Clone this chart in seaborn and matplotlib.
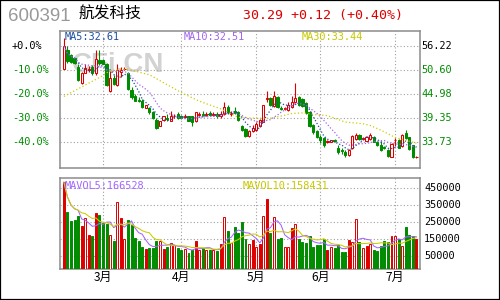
import numpy as np
import pandas as pd
import matplotlib
matplotlib.use("Agg")
import matplotlib.pyplot as plt
import matplotlib.transforms as mtrans
from matplotlib.patches import Rectangle
import seaborn as sns

# ---------------- data ----------------
opens = [50.9, 55.3, 54.1, 53.3, 51.3, 47.5, 49.9, 50.5, 51.2, 49.8,
         52.9, 52.9, 52.1, 45.6, 48.8, 47.0, 50.2, 50.8, 49.8, 46.0,
         44.6, 43.6, 43.4, 41.7, 41.7, 40.7, 38.9, 37.5, 38.9, 39.4,
         38.7, 39.7, 40.3, 39.9, 39.5, 39.7, 39.7, 38.6, 40.1, 40.4,
         40.0, 40.6, 40.0, 40.3, 39.7, 40.3, 41.9, 40.3, 40.9, 40.7,
         37.5, 36.8, 35.2, 36.3, 36.6, 37.5, 38.5, 43.9, 44.1, 42.2,
         44.2, 41.8, 41.5, 41.3, 41.9, 43.1, 44.2, 43.8, 42.9, 40.7,
         37.6, 36.3, 35.0, 34.6, 33.8, 33.7, 34.3, 32.3, 31.85, 31.4,
         30.6, 32.3, 34.5, 35.45, 34.5, 34.0, 34.5, 35.0, 33.7, 32.95,
         32.5, 31.9, 30.2, 34.1, 34.2, 32.7, 35.85, 34.8, 32.95, 30.17]
highs = [58.0, 56.2, 54.3, 53.5, 52.1, 50.2, 52.1, 51.5, 51.7, 55.3,
         55.4, 53.1, 52.3, 50.4, 49.4, 52.1, 51.2, 51.2, 50.2, 46.6,
         45.0, 44.2, 43.8, 42.5, 42.0, 41.1, 39.3, 38.7, 39.9, 40.3,
         41.1, 40.3, 40.7, 40.1, 40.3, 39.9, 39.9, 40.8, 40.7, 41.1,
         40.7, 41.1, 40.7, 40.7, 41.1, 43.1, 42.3, 41.1, 41.9, 41.1,
         37.7, 37.1, 36.5, 37.6, 38.3, 39.1, 42.5, 45.6, 44.3, 45.6,
         44.4, 42.1, 42.0, 43.1, 44.5, 47.6, 44.4, 44.0, 43.1, 40.9,
         37.9, 36.6, 35.3, 34.8, 34.1, 34.3, 34.4, 33.1, 32.3, 31.9,
         32.1, 35.3, 35.85, 35.6, 34.9, 35.1, 35.85, 35.1, 33.9, 34.0,
         32.8, 32.1, 33.4, 34.6, 34.4, 35.6, 36.55, 35.0, 33.1, 30.5]
lows = [50.9, 52.3, 52.3, 52.1, 48.0, 47.4, 49.8, 50.2, 49.5, 49.5,
        51.7, 52.0, 46.8, 45.4, 47.0, 46.8, 49.0, 50.5, 46.0, 43.8,
        43.3, 43.1, 41.7, 41.6, 40.3, 39.1, 36.7, 37.4, 38.7, 38.7,
        38.6, 39.3, 39.1, 39.2, 39.3, 38.6, 37.5, 38.4, 39.7, 39.7,
        39.7, 39.7, 39.7, 39.3, 39.3, 40.1, 40.4, 39.9, 40.3, 38.7,
        36.3, 34.9, 34.9, 36.0, 36.4, 37.3, 38.3, 43.0, 42.2, 42.0,
        41.7, 41.2, 41.2, 41.0, 41.8, 42.8, 42.2, 41.9, 40.3, 37.3,
        35.7, 34.6, 33.5, 32.5, 33.5, 33.6, 33.8, 30.9, 30.8, 30.3,
        30.4, 32.1, 34.2, 34.3, 34.2, 33.9, 34.3, 33.6, 32.8, 31.6,
        32.1, 30.2, 30.1, 32.7, 32.2, 32.5, 34.4, 31.8, 29.9, 29.9]
closes = [56.2, 52.8, 52.5, 52.3, 48.2, 49.8, 51.1, 50.9, 49.8, 53.1,
          52.3, 52.1, 47.0, 48.8, 47.4, 50.5, 50.7, 50.9, 46.2, 44.2,
          43.4, 43.3, 41.9, 42.3, 40.7, 39.3, 37.1, 38.6, 39.7, 39.2,
          39.9, 39.8, 39.3, 39.3, 39.7, 38.7, 38.3, 40.7, 40.3, 40.1,
          40.2, 40.1, 40.2, 39.7, 40.3, 42.0, 40.7, 40.5, 40.6, 38.9,
          36.6, 35.1, 36.3, 37.1, 38.0, 38.9, 42.4, 44.0, 42.4, 44.5,
          41.9, 41.4, 41.7, 42.3, 43.1, 44.0, 42.4, 42.1, 40.5, 37.5,
          36.0, 34.9, 34.2, 33.0, 33.9, 34.2, 33.95, 31.4, 31.7, 30.6,
          31.9, 35.1, 35.3, 34.5, 34.6, 35.0, 35.3, 33.7, 32.95, 31.9,
          32.35, 30.4, 33.3, 34.2, 32.3, 35.45, 34.7, 32.0, 30.17, 30.29]
volumes_k = [483, 310, 256, 262, 285, 227, 272, 174, 168, 303,
             291, 246, 237, 174, 139, 367, 273, 149, 262, 233,
             157, 139, 104, 93, 100, 100, 139, 139, 95, 106,
             128, 114, 100, 87, 91, 68, 87, 139, 87, 100,
             87, 87, 87, 81, 120, 279, 198, 130, 221, 188,
             250, 149, 120, 147, 107, 120, 285, 384, 188, 279,
             149, 159, 104, 104, 217, 237, 149, 134, 126, 168,
             104, 116, 116, 153, 87, 104, 100, 116, 75, 75,
             145, 134, 266, 134, 99, 110, 122, 87, 81, 110,
             139, 134, 168, 168, 149, 110, 221, 174, 168, 149]
volumes = [v * 1000 for v in volumes_k]
# volume bar style: g = green, r = red filled, h = red hollow
vol_style = list("rggggrhrgr" "ggghghrhgg" "gggrggghrg" "hhgghggrhg"
                 "hghgrhghgg" "gghrhrhrgh" "gghhrhgggg" "ggggrhgggg"
                 "rhhghrhggg" "gghhghgggr")
ma30_bar = [1, 12, 14, 19, 23, 25, 34, 39, 45, 50, 55, 59, 62, 65, 68, 71,
            75, 80, 85, 87, 90, 94, 100]
ma30_val = [44.4, 49.3, 50.5, 50.8, 49.9, 49.5, 45.3, 43.3, 41.5, 39.5,
            39.3, 39.3, 39.8, 40.4, 40.55, 40.2, 39.9, 38.4, 38.0, 37.6,
            36.5, 34.8, 33.44]
month_labels = ["3月", "4月", "5月", "6月", "7月"]
month_start = [11, 33, 54, 72, 93]
price_ticks = [56.22, 50.60, 44.98, 39.35, 33.73]
pct_labels = ["+0.0%", "-10.0%", "-20.0%", "-30.0%", "-40.0%"]
vol_ticks = [450000, 350000, 250000, 150000, 50000]

RED = "#DD0000"
GREEN = "#008C00"
GRID = "#A0A0A0"

df = pd.DataFrame({"i": np.arange(len(closes)), "open": opens, "high": highs,
                   "low": lows, "close": closes, "vol": volumes,
                   "vstyle": vol_style})
df["ma5"] = df["close"].rolling(5, min_periods=1).mean()
df["ma10"] = df["close"].rolling(10, min_periods=1).mean()
df["vma5"] = df["vol"].rolling(5, min_periods=1).mean()
df["vma10"] = df["vol"].rolling(10, min_periods=1).mean()
ma30 = pd.DataFrame({"i": np.array(ma30_bar) - 1, "v": ma30_val})

sns.set_style("white")
plt.rcParams["font.family"] = ["DejaVu Sans", "Noto Sans CJK SC"]

fig = plt.figure(figsize=(5, 3), dpi=100)
ax1 = fig.add_axes([0.1206, 0.441, 0.7194, 0.4557])
ax2 = fig.add_axes([0.1206, 0.1033, 0.7194, 0.3023])

P_LO, P_HI = 27.69, 59.75
V_LO, V_HI = -24000, 505000
for ax in (ax1, ax2):
    ax.set_xlim(-1, 100)
    ax.set_xticks([])
    ax.set_yticks([])
    for s in ax.spines.values():
        s.set_color("#8C8C8C")
        s.set_linewidth(1.1)
    for m in month_start:
        ax.axvline(m, color=GRID, lw=0.8, ls=(0, (1, 2)), zorder=0.6)
ax1.set_ylim(P_LO, P_HI)
ax2.set_ylim(V_LO, V_HI)
for p in price_ticks:
    ax1.axhline(p, color=GRID, lw=0.8, ls=(0, (1, 2)), zorder=0.6)
for v in vol_ticks:
    ax2.axhline(v, color=GRID, lw=0.8, ls=(0, (1, 2)), zorder=0.6)

# watermark
ax1.text(0.237, 0.783, "CFi.CN", transform=fig.transFigure, ha="center",
         va="center", fontsize=20, fontweight="bold", color="#D2D2D2",
         family="Liberation Sans", zorder=0.5)

# candles
up = df["close"] >= df["open"]
colors = np.where(up, RED, GREEN)
ax1.vlines(df["i"], df["low"], df["high"], colors=colors, lw=0.8, zorder=2)
body_lo = np.minimum(df["open"], df["close"])
body_h = np.maximum((df["close"] - df["open"]).abs(), 0.08)
ax1.bar(df["i"], body_h, bottom=body_lo, width=0.62,
        color=np.where(up, "white", GREEN), edgecolor=colors, lw=0.75, zorder=3)

# price MAs
sns.lineplot(data=df, x="i", y="ma5", ax=ax1, color="#1E4FA0", lw=0.9,
             linestyle=(0, (1, 1.6)), zorder=4)
sns.lineplot(data=df, x="i", y="ma10", ax=ax1, color="#A066F0", lw=0.9,
             linestyle=(0, (1, 1.6)), zorder=4)
sns.lineplot(data=ma30, x="i", y="v", ax=ax1, color="#CCCC00", lw=0.9,
             linestyle=(0, (1, 1.8)), zorder=4)

# volume bars
vcol = {"g": GREEN, "r": RED, "h": RED}
vface = {"g": GREEN, "r": RED, "h": "white"}
ax2.bar(df["i"], df["vol"] - V_LO, bottom=V_LO, width=0.55,
        color=[vface[s] for s in df["vstyle"]],
        edgecolor=[vcol[s] for s in df["vstyle"]], lw=0.7, zorder=3)
sns.lineplot(data=df, x="i", y="vma5", ax=ax2, color="#A366FF", lw=0.75, zorder=4)
sns.lineplot(data=df, x="i", y="vma10", ax=ax2, color="#CCCC00", lw=0.75, zorder=4)
for ax in (ax1, ax2):
    ax.set_xlabel("")
    ax.set_ylabel("")
    ax.set_xlim(-1, 100)
ax1.set_ylim(P_LO, P_HI)
ax2.set_ylim(V_LO, V_HI)

MONO = "DejaVu Sans Mono"
# axis labels
tr1 = mtrans.blended_transform_factory(fig.transFigure, ax1.transData)
for k, (p, lab) in enumerate(zip(price_ticks, pct_labels)):
    c = "black" if k == 0 else GREEN
    ax1.text(0.024, p, lab, transform=tr1, ha="left", va="center",
             family=MONO, fontsize=7.4, color=c, clip_on=False)
    ax1.text(0.8434, p, f"{p:.2f}", transform=tr1, ha="left", va="center",
             family=MONO, fontsize=7.4, color=c, clip_on=False)
tr2 = mtrans.blended_transform_factory(fig.transFigure, ax2.transData)
for v in vol_ticks:
    ax2.text(0.848, v, f"{v}", transform=tr2, ha="left", va="center",
             family=MONO, fontsize=7.4, color="black", clip_on=False)
tr3 = mtrans.blended_transform_factory(ax2.transData, fig.transFigure)
for m, lab in zip(month_start, month_labels):
    ax2.text(m, 0.076, lab, transform=tr3, ha="center", va="center",
             fontsize=8.6, family=["Noto Sans CJK SC"], color="black",
             clip_on=False)

# legends
fig.text(0.130, 0.875, "MA5:32.61", family=MONO, fontsize=7.4,
         color="#1E4FA0", va="center")
fig.text(0.3666, 0.875, "MA10:32.51", family=MONO, fontsize=7.4,
         color="#A066F0", va="center")
fig.text(0.6034, 0.875, "MA30:33.44", family=MONO, fontsize=7.4,
         color="#C8C800", va="center")
fig.text(0.130, 0.380, "MAVOL5:166528", family=MONO, fontsize=7.4,
         color="#A366FF", va="center")
fig.text(0.4854, 0.380, "MAVOL10:158431", family=MONO, fontsize=7.4,
         color="#C8C800", va="center")

# header
fig.text(0.0166, 0.945, "600391", family="Liberation Sans", fontsize=13.5,
         color="#999999", va="center")
fig.text(0.1566, 0.952, "航发科技", family=["Noto Sans CJK SC"], fontsize=11.3,
         color="black", va="center")
fig.text(0.486, 0.95, "30.29 +0.12 (+0.40%)", family=MONO, fontsize=9.5,
         color=RED, va="center")

fig.patches.append(Rectangle((0, 0), 1, 1, transform=fig.transFigure,
                             fill=False, edgecolor="black", lw=1.6))

fig.savefig("out.png", dpi=100)
